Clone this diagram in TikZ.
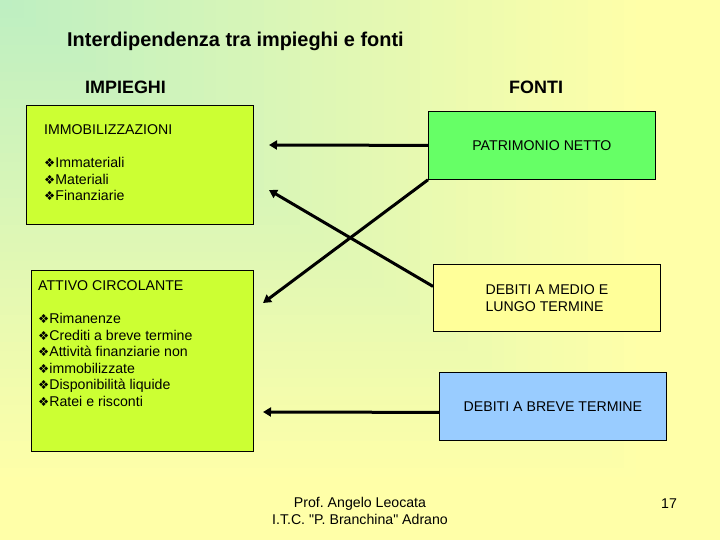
\documentclass[tikz,border=0pt]{standalone}
\usepackage{fontspec}
\setmainfont{Liberation Sans}
\newfontfamily\dingfont{DejaVu Sans}
\usetikzlibrary{positioning, arrows.meta}
\frenchspacing

\definecolor{sfondoverde}{HTML}{BDEFC2}
\definecolor{sfondogiallo}{HTML}{FFFFA8}
\definecolor{impieghicol}{HTML}{CCFF33}
\definecolor{netto}{HTML}{66FF66}
\definecolor{mediolungo}{HTML}{FFFF99}
\definecolor{breve}{HTML}{99CCFF}

\newcommand{\bul}{{\dingfont\fontsize{12.5}{12}\selectfont ❖}}

\tikzset{
  box/.style={draw=black, line width=0.8bp, anchor=north west, inner sep=0pt},
  testo/.style={font=\fontsize{14.2}{16.7}\selectfont, align=left, inner sep=0pt},
  titolo/.style={font=\bfseries\fontsize{18}{20}\selectfont, inner sep=0pt},
  freccia/.style={line width=3bp, -{Triangle[length=8bp, width=9bp]}},
}

\begin{document}
\begin{tikzpicture}[x=1bp, y=-1bp]
    % sfondo
    \useasboundingbox (0,0) rectangle (720,540);
    \fill[sfondogiallo] (0,0) rectangle (720,540);
    \foreach \i in {60,59,...,1} {
        \pgfmathtruncatemacro\p{min(100,\i*100/54)}
        \fill[sfondogiallo!\p!sfondoverde] (0,0) rectangle (12*\i,9*\i);
    }

    % titoli
    \node[titolo, font=\bfseries\fontsize{20}{22}\selectfont, anchor=base west] (title) at (67,47)
        {Interdipendenza tra impieghi e fonti};
    \node[titolo, anchor=base west] (impieghi) at (85,94) {IMPIEGHI};
    \node[titolo, anchor=base west] (fonti) at (509,94) {FONTI};

    % impieghi
    \node[box, fill=impieghicol, minimum width=227bp, minimum height=119bp] (immob) at (26,105) {};
    \node[testo, anchor=north west] (immobtext) at (44,124)
        {IMMOBILIZZAZIONI\\[16.7bp]\bul Immateriali\\\bul Materiali\\\bul Finanziarie};
    \node[box, fill=impieghicol, minimum width=222bp, minimum height=181bp] (attivo) at (31,270) {};
    \node[testo, anchor=north west] (attivotext) at (38,280)
        {ATTIVO CIRCOLANTE\\[16.7bp]\bul Rimanenze\\\bul Crediti a breve termine\\
         \bul Attività finanziarie non\\\bul immobilizzate\\\bul Disponibilità liquide\\
         \bul Ratei e risconti};

    % fonti
    \node[box, testo, fill=netto, minimum width=227bp, minimum height=68bp] (pn) at (428,111) {PATRIMONIO NETTO};
    \node[box, testo, fill=mediolungo, minimum width=227bp, minimum height=67bp] (dml) at (433,264)
        {DEBITI A MEDIO E\\LUNGO TERMINE};
    \node[box, testo, fill=breve, minimum width=227bp, minimum height=68bp] (dbt) at (439,372)
        {DEBITI A BREVE TERMINE};

    % frecce
    \coordinate (p1) at (269,145);
    \coordinate (p2) at (263,303);
    \coordinate (p3) at (269,190);
    \coordinate (p4) at (263,412);
    \draw[freccia] (pn.west) -- (p1);
    \draw[freccia] (pn.south west) -- (p2);
    \draw[freccia] ([yshift=11.5bp]dml.west) -- (p3);
    \draw[freccia] ([yshift=-6bp]dbt.west) -- (p4);

    % pie di pagina
    \node[testo, align=center, anchor=north] (autore) at (360,497)
        {Prof. Angelo Leocata\\I.T.C. \textquotedbl P. Branchina\textquotedbl{} Adrano};
    \node[testo, anchor=base] (pagina) at (669,508) {17};
\end{tikzpicture}
\end{document}
